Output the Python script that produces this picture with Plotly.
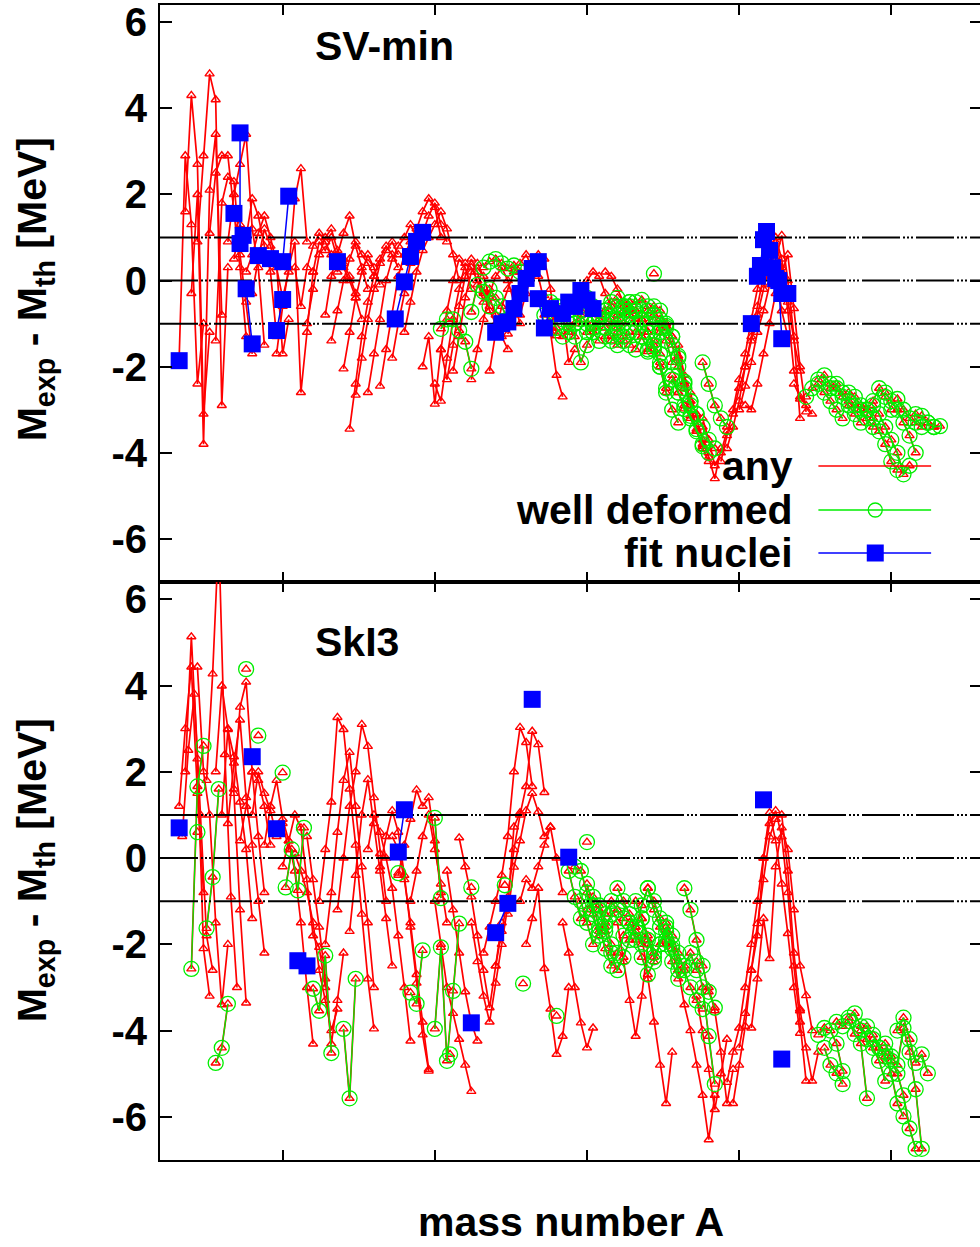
import plotly.graph_objects as go

# ---------------- data (mass number A, residual M_exp - M_th in MeV) ----------------
# chains: (first A, [values at A, A+2, A+4, ...])
sv_any_chains = [
    (16, [-1.8, 2.9, 1.3, -2.4, -1.0]),
    (18, [1.6, 4.3, 2.7, -3.1, -1.2]),
    (20, [-0.3, 2.0, -3.8, 2.1, 3.4, -0.8]),
    (22, [0.9, 2.9, 4.8, 4.2, -2.9, 0.3]),
    (26, [1.1, 2.5, 2.9, 2.9, 1.6, 0.3, -1.3]),
    (28, [-1.4, 1.8, 2.4, 2.3, 0.6, -0.5, -1.7]),
    (32, [0.9, 2.0, 2.7, 3.4, 1.2, 0.3, -1.5]),
    (34, [0.5, 1.3, 1.0, 1.9, 1.5, 0.8, 0.2, -1.3]),
    (38, [0.2, 0.6, 1.1, 1.5, 1.0, 0.4, -1.7, -0.9]),
    (40, [-0.3, 0.5, 1.2, 0.8, 0.3, -0.4, 0.2, 1.9, 2.6, 0.9]),
    (48, [-1.7, -0.6, 0.3, 0.9, -2.6, -1.2, 0.2]),
    (54, [0.3, -0.6, 0.3, 0.8, 1.1, 0.9, 0.6, 0.2, 0.5]),
    (58, [-1.0, -0.2, 0.6, 1.0, 1.2, 0.7, 0.4, 0.1, -0.3]),
    (60, [0.2, 0.9, 0.7, 1.0, 0.5, 0.3, 0.0, -0.4, -0.9]),
    (64, [-0.8, 0.1, 0.6, 1.1, 1.5, 0.8, 0.3, -0.2]),
    (66, [-1.4, -0.7, 0.0, 0.5, 0.9, 0.6, 0.4, 0.1]),
    (70, [-2.05, -1.2, -0.4, 0.2, 0.6, 0.3, -0.1]),
    (72, [-3.45, -2.4, -1.3, -0.5, 0.1, 0.5, 0.8, 0.6, 0.3]),
    (74, [-2.66, -1.8, -0.9, -0.2, 0.4, 0.7, 0.9, 0.6]),
    (78, [-2.6, -1.7, -0.9, 0.0, 0.5, 0.8, 1.0, 1.3, 1.0]),
    (82, [-2.45, -1.6, -0.8, 0.1, 0.6, 0.9, 1.2, 1.6, 1.9, 1.7, 1.0]),
    (86, [-1.8, -1.0, -0.3, 0.4, 0.8, 1.1, 1.5, 1.8, 1.3, 0.9]),
    (90, [-1.2, -0.5, 0.2, 0.7, 1.0, 1.3, 1.6, 1.2, 0.6, 0.0]),
    (96, [-2.0, -1.3, -2.87, -1.6, -0.7, 0.0, 0.5, 0.3, -0.2]),
    (100, [-2.4, -2.8, -1.8, -0.9, -0.2, 0.4, 0.3, 0.0, -0.5]),
    (102, [-1.6, -2.3, -1.5, -0.6, 0.1, 0.5, 0.2, -0.3, -0.7, -1.0]),
    (106, [-2.1, -1.3, -0.4, 0.2, 0.4, 0.1, -0.4, -0.8, -1.3, -1.6]),
    (112, [-2.3, -1.6, -0.9, -0.3, 0.1, 0.3, 0.0, -0.5, -1.0]),
    (118, [-2.1, -1.2, -0.6, -0.2, 0.2, 0.4, 0.6, 0.3]),
    (124, [-1.24, -0.6, -0.2, 0.1, 0.3, 0.6, 0.5, -0.2, -1.28]),
    (128, [-0.8, -0.3, 0.2, 0.1, -0.5, -1.2, -2.2, -2.7]),
    (136, [-0.35, -1.1, -0.6, -0.8, -1.9, -1.6]),
    (146, [-0.4, -0.2, 0.0, 0.2, 0.1, -0.3, -0.6]),
    (156, [0.2, 0.1, -0.2, -0.5, -0.7, -0.9]),
    (180, [-1.5, -2.2, -2.9, -3.5, -3.9, -4.2]),
    (184, [-2.6, -3.2, -3.7, -4.1, -4.6, -3.9]),
    (188, [-3.2, -3.7, -4.3, -4.0, -3.5]),
    (194, [-4.2, -3.6, -3.0, -2.3, -1.7, -0.9, -0.2, 0.4, 0.8, 0.2, -0.7, -1.3]),
    (196, [-3.9, -3.4, -2.8, -2.0, -1.3, -0.6, 0.1, 0.7, 1.0, 0.5, -0.5, -1.4, -2.1]),
    (198, [-3.1, -2.5, -2.0, -1.4, -0.8, -0.2, 0.4, 0.9, 0.3, -0.7, -2.1, -2.75]),
    (200, [-3.0, -2.45, -1.9, -1.2, -0.7, -0.1, 0.5, 1.05, 0.0, -1.3, -3.2]),
    (202, [-2.9, -3.0, -2.4, -1.7, -1.0, -0.3, 0.2, 0.6, -0.65, -2.0, -3.05]),
    (218, [-2.4, -2.7, -2.9, -3.1]),
]
sv_deformed_chains = [
    (102, [-1.12, -0.9, -0.9, -1.16, -1.42, -2.05]),
    (112, [-0.73, -0.1, -0.26, -0.6]),
    (116, [0.3, 0.44, 0.5, 0.4, 0.28, 0.35, 0.2]),
    (118, [-0.2, -0.4, -0.6, -0.9]),
    (136, [-0.8, -0.9, -1.1, -1.3, -1.2, -1.0, -0.9]),
    (138, [-0.5, -0.6, -0.9, -1.2, -1.0, -0.7]),
    (140, [-0.6, -0.7, -0.5, -0.6, -0.8, -1.0, -1.2, -1.4]),
    (144, [-1.0, -1.3, -1.9, -1.5, -1.2, -0.9, -0.7, -0.6, -0.8]),
    (148, [-0.5, -0.4, -0.6, -0.9, -1.1, -1.3, -1.5, -1.4, -1.2]),
    (150, [-1.2, -1.0, -0.8, -0.7, -0.9, -1.1, -1.3]),
    (152, [-1.1, -0.9, -0.7, -0.5, -0.4, -0.6, -0.8, -1.0, -1.3, -1.6]),
    (156, [-1.3, -1.0, -0.8, -0.6, -0.5, -0.7, -0.9, -1.2, -1.5, -1.7]),
    (158, [-1.4, -1.2, -1.0, -0.8, -0.7, -0.9, -1.2, -1.6, -2.0]),
    (160, [-0.9, -0.7, -0.6, -0.5, -0.45, -0.6, -0.8, -1.1, -1.4, -1.9]),
    (162, [-0.6, -0.5, -0.7, -0.9, -1.2, -1.5, -2.0, -2.6, -3.0, -3.3]),
    (164, [-1.5, -1.2, -0.9, -0.7, -0.6, -0.7, -1.0, -1.3, -1.8, -2.4]),
    (172, [0.16]),
    (166, [-1.6, -1.3, -1.0, -0.8, -0.9, -1.1, -1.5, -2.0, -2.5, -2.9]),
    (170, [-1.65, -1.4, -1.2, -1.05, -1.3, -1.75, -2.35, -2.8, -3.1]),
    (174, [-1.9, -2.5, -2.3, -2.6, -2.98, -3.14, -3.45, -3.85]),
    (178, [-2.2, -2.6, -2.9, -3.2, -3.5, -3.8, -4.0]),
    (184, [-2.8, -3.1, -3.4, -3.7, -3.9]),
    (188, [-1.9, -2.4, -2.9, -3.2, -3.4]),
    (222, [-2.7, -2.5, -2.4, -2.6, -2.8, -3.0, -3.2]),
    (226, [-2.3, -2.2, -2.4, -2.5, -2.7, -2.9, -3.1, -3.3]),
    (230, [-2.5, -2.4, -2.6, -2.8, -2.9, -3.0, -3.2, -3.4]),
    (236, [-2.6, -2.7, -2.9, -3.0, -2.8, -2.5, -2.7, -3.0]),
    (242, [-3.0, -3.2, -3.5, -3.8, -4.2, -4.4]),
    (244, [-2.9, -3.1, -3.4, -3.7, -4.0, -4.5, -4.3]),
    (248, [-2.6, -2.8, -3.0, -3.3, -3.6, -4.0]),
    (252, [-2.75, -3.0, -3.2, -3.3, -3.4]),
    (258, [-3.1, -3.14, -3.3, -3.4]),
    (262, [-3.3, -3.4, -3.38]),
]
sv_fit_chains = [
    [(16, -1.86)],
    [(34, 1.56)],
    [(36, 3.43), (36, 0.86), (37, 1.05)],
    [(38, -0.19), (40, -1.47)],
    [(42, 0.58), (46, 0.51)],
    [(48, -1.16), (50, -0.44)],
    [(50, 0.44), (52, 1.96)],
    [(68, 0.44)],
    [(87, -0.89), (90, -0.03), (92, 0.56), (94, 0.91), (96, 1.12)],
    [(120, -1.2), (122, -1.0), (124, -0.96), (126, -0.65), (128, -0.3), (130, 0.05), (132, 0.28), (134, 0.44)],
    [(134, -0.42), (136, -1.1), (138, -0.65), (142, -0.77), (144, -0.5), (146, -0.6)],
    [(148, -0.23), (150, -0.45), (152, -0.65)],
    [(204, -1.0)],
    [(206, 0.1), (207, 0.35), (208, 0.95), (209, 1.14), (210, 0.7), (211, 0.3), (212, 0.05), (214, -0.3), (216, -0.3)],
    [(213, 0.0), (214, -1.35)],
]

ski3_any_chains = [
    (16, [1.2, 3.0, 4.43, 1.5, -0.8]),
    (17, [0.5, 2.5, 3.8, 1.0, -1.8, -2.6]),
    (18, [2.0, 5.13, 2.3, -2.1, -3.2]),
    (22, [4.43, 2.0, 1.0, -1.5, -3.4, -2.0]),
    (25, [1.8, 4.27, 7.5, 2.4, -0.9, -3.0]),
    (28, [2.0, 3.99, 3.0, 1.5, -1.2, -3.36]),
    (30, [1.0, 2.98, 2.35, 1.3, 0.2, -1.4]),
    (32, [0.8, 2.2, 3.2, 1.4, 0.3, -1.0, -2.2]),
    (34, [1.6, 3.5, 4.08, 2.0, 0.5, -0.8]),
    (36, [0.4, 1.2, 2.0, 1.8, 1.2, 0.3]),
    (40, [1.0, 2.0, 1.5, 1.1, 0.5, 0.8, 0.2]),
    (44, [0.3, 1.2, 1.8, 0.9, 0.4, -0.3, -1.5, -3.0, -4.31]),
    (50, [-0.2, 0.4, 1.0, 0.7, -0.5, -1.8, -2.07, -3.0]),
    (54, [0.1, -0.3, -0.8, -1.5, -2.6, -3.3, -4.0, -3.5]),
    (58, [0.5, -0.5, -1.6, -2.8, -4.31, -3.3, -2.2]),
    (62, [-1.0, 0.2, 1.3, 3.26, 2.98, 1.6, 0.3, -1.3, -2.8, -3.96]),
    (64, [-2.0, -0.8, 0.6, 1.8, 2.45, 1.2, -0.2, -1.5, -3.0]),
    (68, [-1.2, 0.0, 1.2, 2.0, 3.1, 2.59, 1.4, 0.1, -1.0]),
    (72, [-1.7, -0.4, 1.0, 1.82, 0.8, -0.3, -1.4, -2.5]),
    (78, [0.2, 1.0, 0.6, 0.0, -0.7, -1.8, -3.0, -4.24]),
    (82, [-0.2, 0.5, 1.1, 0.6, -0.4, -1.6, -2.9, -4.1, -4.94]),
    (86, [0.5, 0.2, -0.5, -1.5, -2.7, -3.8, -4.9]),
    (88, [-0.4, 0.3, 0.9, 1.58, 1.2, 1.4, 0.4, -0.8]),
    (92, [-1.0, -0.3, 0.5, 1.0, 0.2, -0.6, -1.5]),
    (100, [-1.0, -2.0, -3.0, -3.6, -4.2, -4.8, -5.41]),
    (104, [-0.3, -1.2, -2.2, -3.1, -3.82, -4.24]),
    (108, [0.47, -0.2, -0.9, -1.8, -2.6, -3.47, -2.5, -1.5]),
    (112, [-1.5, -2.4, -3.2, -3.8, -2.9, -2.0, -1.1, 0.72, 1.05]),
    (116, [-2.2, -1.6, -1.0, -0.4, 0.5, 2.0, 3.03, 2.68, 1.66]),
    (120, [-2.5, -1.7, -0.9, 0.2, 1.0, 1.66, 2.94, 2.63, 1.52]),
    (124, [-1.3, -0.21, 0.4, 1.1, 1.5, 1.07, 0.5, 0.72]),
    (128, [-1.0, -0.5, -0.7, -0.2, 0.3, 0.72, 0.0, -0.8]),
    (130, [-2.0, -1.4, -0.7, -2.56, -3.5, -4.55, -4.13, -3.0]),
    (142, [-1.5, -2.2, -3.0, -3.82, -4.4, -3.94]),
    (160, [-1.5, -2.4, -3.3, -4.13, -3.2, -2.0]),
    (168, [-1.8, -2.8, -3.8, -4.8, -5.69, -4.5]),
    (180, [-2.6, -3.4, -4.0, -4.8, -5.5, -6.53, -5.5]),
    (186, [-3.2, -4.0, -4.9, -5.83, -5.0, -4.2]),
    (190, [-3.0, -3.54, -4.5, -5.69, -4.9]),
    (196, [-5.2, -4.5, -3.94, -3.0, -2.0, -1.0, 0.0, 1.05, 0.4, -0.6, -1.75, -3.0, -4.06]),
    (198, [-5.69, -4.8, -3.9, -2.6, -1.52, -0.5, 0.49, 0.9, 1.0, -0.3, -2.2, -3.54]),
    (200, [-4.4, -3.6, -2.6, -1.8, 0.0, 0.8, 1.1, 0.49, -0.8, -2.5, -3.8, -5.17]),
    (204, [-3.94, -2.8, -1.4, -2.33, -0.2, 0.7, 0.2, -1.2, -2.5, -3.19, -4.0]),
    (220, [-3.5, -4.4, -5.17, -4.5]),
]
ski3_deformed_chains = [
    (20, [-2.57, 1.66, 2.6]),
    (22, [0.6]),
    (25, [-1.63, -0.44, 1.6]),
    (28, [-4.75, -4.4, -3.38]),
    (38, [4.38]),
    (42, [2.84]),
    (50, [1.98]),
    (51, [-0.68, 0.2, -0.75, 0.7]),
    (60, [-3.03, -3.54, -2.26, -4.52]),
    (70, [-3.96, -5.57, -2.8]),
    (88, [-0.35]),
    (92, [-3.12, -3.38, -2.14]),
    (100, [0.93, -0.93]),
    (100, [-3.96, -2.07, -4.7, -3.08, -1.52]),
    (105, [-4.55]),
    (112, [-0.68]),
    (123, [-0.63]),
    (129, [-2.91]),
    (140, [-3.66]),
    (150, [0.37]),
    (144, [-0.3, -0.9, -1.4, -1.2, -0.9, -1.1, -1.5, -2.0]),
    (146, [-0.2, -0.3, -0.8, -1.3, -1.8, -1.6, -1.3, -1.2, -1.4]),
    (148, [-1.0, -1.5, -2.0, -1.7, -1.3, -1.0, -1.2]),
    (150, [-0.6, -1.1, -1.6, -2.1, -2.5, -2.2, -1.8, -1.5, -1.7, -2.0]),
    (154, [-1.2, -1.7, -2.2, -2.6, -2.3, -1.9, -1.6, -1.4, -1.8, -2.2]),
    (160, [-0.7, -1.0, -1.3, -1.6, -1.1, -0.7, -1.0, -1.4, -1.9]),
    (164, [-1.5, -1.9, -2.3, -2.7, -2.4, -2.0, -1.7, -2.1, -2.6]),
    (166, [-1.0, -1.4, -1.9, -2.3, -2.0, -1.6, -2.0, -2.4]),
    (170, [-0.7, -1.2, -1.6, -2.0, -2.4, -2.8, -2.5, -2.2, -2.6]),
    (176, [-1.5, -1.8, -2.2, -2.6, -3.0, -3.3, -3.5]),
    (182, [-0.7, -1.2, -1.9, -2.5, -3.1, -3.47]),
    (186, [-2.4, -3.0, -4.13, -5.24]),
    (226, [-4.1, -3.94, -4.0, -4.3, -4.94]),
    (228, [-4.4, -4.8, -4.99, -5.24]),
    (232, [-3.8, -3.9, -3.78, -4.08, -4.3, -5.57]),
    (236, [-3.7, -3.6, -3.9, -4.2, -4.4, -4.7, -5.17]),
    (240, [-4.0, -3.9, -4.1, -4.4, -4.6, -5.0, -5.69, -5.99]),
    (244, [-4.2, -4.4, -4.5, -4.7, -5.0, -5.5, -6.27, -6.74]),
    (248, [-4.3, -4.6, -4.8, -3.94, -4.5, -5.36, -6.74]),
    (252, [-4.0, -3.7, -4.2, -4.75, -4.55, -4.99]),
]
ski3_fit_chains = [
    [(16, 0.7)], [(40, 2.35)], [(48, 0.68)], [(55, -2.38), (58, -2.5)],
    [(88, 0.14), (90, 1.12)], [(112, -3.82)], [(120, -1.73), (124, -1.05)],
    [(132, 3.68)], [(144, 0.02)], [(208, 1.35)], [(214, -4.66)],
]

panel_labels = ["SV-min", "SkI3"]
ref_levels = [-1, 0, 1]
legend_names = ["any", "well deformed", "fit nuclei"]
x_range = [9.7, 279.8]
y_range = [-7, 6.4]
y_ticks = [-6, -4, -2, 0, 2, 4, 6]
y_tick_text = ["-6", "-4", "-2", "0", "2", "4", "6"]
x_ticks = [50, 100, 150, 200, 250]

# ---------------- helpers ----------------
def flat_step(chains, step=2):
    xs, ys = [], []
    for a0, vals in chains:
        for k, v in enumerate(vals):
            xs.append(a0 + step * k)
            ys.append(v)
        xs.append(None)
        ys.append(None)
    return xs, ys


def flat_pts(chains):
    xs, ys = [], []
    for ch in chains:
        for a, v in ch:
            xs.append(a)
            ys.append(v)
        xs.append(None)
        ys.append(None)
    return xs, ys


RED, GREEN, BLUE = "#ff0000", "#00ee00", "#0000ff"
FONT = "Liberation Sans, Arial, Helvetica, sans-serif"
DASH = "38px,3px,2px,2px,2px,2px,2px,3px"

fig = go.Figure()
panels = [
    ("x", "y", sv_any_chains, sv_deformed_chains, sv_fit_chains),
    ("x2", "y2", ski3_any_chains, ski3_deformed_chains, ski3_fit_chains),
]
for xa, ya, anyc, defc, fitc in panels:
    rx, ry = flat_step(anyc + defc)
    fig.add_trace(go.Scatter(x=rx, y=ry, xaxis=xa, yaxis=ya, mode="lines+markers",
                             line=dict(color=RED, width=1.7),
                             marker=dict(symbol="triangle-up-open", size=8, color=RED, line=dict(width=1.4)),
                             showlegend=False, hoverinfo="skip"))
    gx, gy = flat_step(defc)
    fig.add_trace(go.Scatter(x=gx, y=gy, xaxis=xa, yaxis=ya, mode="lines+markers",
                             line=dict(color=GREEN, width=1.3),
                             marker=dict(symbol="circle-open", size=15, color=GREEN, line=dict(width=1.3)),
                             showlegend=False, hoverinfo="skip"))
    for lv in ref_levels:
        fig.add_trace(go.Scatter(x=x_range, y=[lv, lv], xaxis=xa, yaxis=ya, mode="lines",
                                 line=dict(color="black", width=2, dash=DASH),
                                 showlegend=False, hoverinfo="skip"))
    bx, by = flat_pts(fitc)
    fig.add_trace(go.Scatter(x=bx, y=by, xaxis=xa, yaxis=ya, mode="lines+markers",
                             line=dict(color=BLUE, width=1.5),
                             marker=dict(symbol="square", size=17, color=BLUE, line=dict(width=0)),
                             showlegend=False, hoverinfo="skip"))

# ---------------- layout ----------------
W, H = 984, 1247
L, R, T, B = 160, 0, 5, 87
PW, PH = W - L - R, H - T - B
split = (1160 - 582) / PH


def px_x(px):
    return (px - L) / PW


def px_y(py):
    return (H - B - py) / PH


axis_common = dict(showgrid=False, zeroline=False, showline=True, linecolor="black", linewidth=2,
                   mirror="ticks", ticks="inside", tickcolor="black", tickwidth=2)
xax = dict(axis_common, range=x_range, tickvals=x_ticks, showticklabels=False, ticklen=10)
yax = dict(axis_common, range=y_range, tickvals=y_ticks, ticktext=y_tick_text, ticklen=12,
           ticklabelstandoff=3,
           tickfont=dict(family=FONT, size=40, color="black", weight="bold"))

fig.update_layout(
    width=W, height=H, margin=dict(l=L, r=R, t=T, b=B),
    paper_bgcolor="white", plot_bgcolor="white",
    xaxis=dict(xax, anchor="y", domain=[0, 1]),
    yaxis=dict(yax, anchor="x", domain=[split, 1]),
    xaxis2=dict(xax, anchor="y2", domain=[0, 1]),
    yaxis2=dict(yax, anchor="x2", domain=[0, split]),
    showlegend=False,
)

ann = []
tfont = dict(family=FONT, size=41, color="black")
ann.append(dict(text="<b>" + panel_labels[0] + "</b>", x=px_x(385), y=px_y(46), xref="paper", yref="paper",
                showarrow=False, font=tfont, xanchor="center", yanchor="middle"))
ann.append(dict(text="<b>" + panel_labels[1] + "</b>", x=px_x(357), y=px_y(642), xref="paper", yref="paper",
                showarrow=False, font=tfont, xanchor="center", yanchor="middle"))
ytitle = "<b>M<sub>exp</sub> - M<sub>th</sub> [MeV]</b>"
for cy in (289, 870):
    ann.append(dict(text=ytitle, x=px_x(35), y=px_y(cy), xref="paper", yref="paper", textangle=-90,
                    showarrow=False, font=tfont, xanchor="center", yanchor="middle"))
ann.append(dict(text="<b>mass number A</b>", x=px_x(572), y=px_y(1222), xref="paper", yref="paper",
                showarrow=False, font=tfont, xanchor="center", yanchor="middle"))

leg_y = [466, 510, 553]
leg_col = [RED, GREEN, BLUE]
shapes = []
for name, py, col, i in zip(legend_names, leg_y, leg_col, range(3)):
    ann.append(dict(text="<b>" + name + "</b>", x=px_x(797), y=px_y(py), xref="paper", yref="paper",
                    showarrow=False, font=tfont, xanchor="right", yanchor="middle"))
    shapes.append(dict(type="line", xref="paper", yref="paper", x0=px_x(820), x1=px_x(933),
                       y0=px_y(py), y1=px_y(py), line=dict(color=col, width=1.5)))
    if i == 1:
        shapes.append(dict(type="circle", xref="paper", yref="paper", xsizemode="pixel", ysizemode="pixel",
                           xanchor=px_x(877), yanchor=px_y(py), x0=-7, x1=7, y0=-7, y1=7,
                           line=dict(color=GREEN, width=1.3), fillcolor="rgba(0,0,0,0)"))
    if i == 2:
        shapes.append(dict(type="rect", xref="paper", yref="paper", xsizemode="pixel", ysizemode="pixel",
                           xanchor=px_x(877), yanchor=px_y(py), x0=-8.5, x1=8.5, y0=-8.5, y1=8.5,
                           line=dict(width=0), fillcolor=BLUE))
fig.update_layout(annotations=ann, shapes=shapes)

fig.write_html("out.html", config={"displayModeBar": False},
               post_script="document.body.style.margin='0px';document.body.style.overflow='hidden';")
